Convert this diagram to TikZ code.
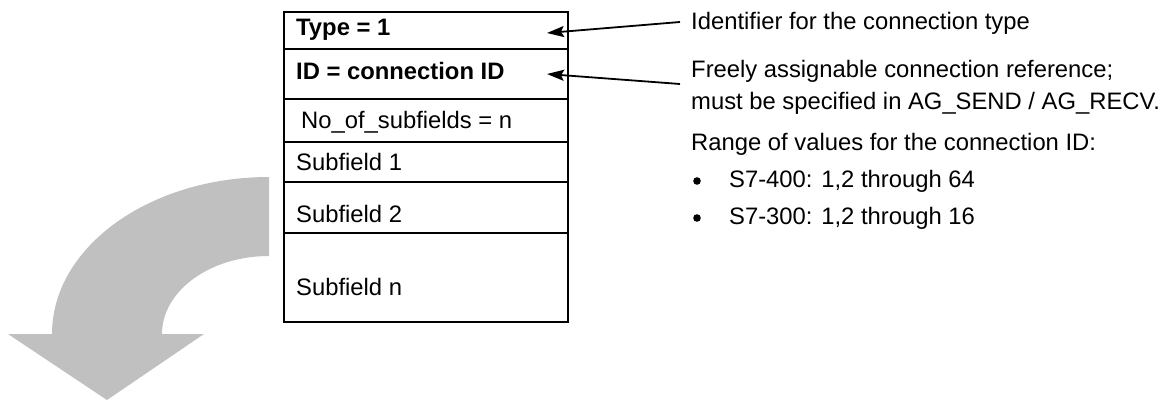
\documentclass[tikz,border=0pt]{standalone}
\usepackage{fontspec}
\setmainfont{Liberation Sans}
\usetikzlibrary{arrows.meta}
\definecolor{arrowgray}{HTML}{C0C0C0}
\begin{document}
\begin{tikzpicture}[x=1pt,y=-1pt,
  txt/.style={anchor=base west,inner sep=0pt,font=\fontsize{23.8}{28}\selectfont},
  btxt/.style={txt,font=\fontsize{23.8}{28}\selectfont\bfseries},
  rowline/.style={line width=1.2pt},
  pointer/.style={line width=1.8pt,-{Stealth[length=17pt,width=11pt,inset=3pt]}},
  bigarrow/.style={fill=arrowgray}]
\useasboundingbox (0,0) rectangle (1170,401);
% big curved arrow
\fill[bigarrow] (269,177) .. controls (149.1,177) and (52,247.3) .. (52,334)
  -- (8,334) -- (107,400) -- (204,334) -- (162,334)
  .. controls (162,290.9) and (209.9,256) .. (269,256) -- cycle;
% box
\node[draw,line width=2pt,anchor=north west,inner sep=0pt,minimum width=284pt,minimum height=310pt] (box) at (283,11) {};
\draw[rowline] (283,49) -- (567,49);
\draw[rowline] (283,99) -- (567,99);
\draw[rowline] (283,142) -- (567,142);
\draw[rowline] (283,182) -- (567,182);
\draw[rowline] (283,233) -- (567,233);
% box texts
\node[btxt] (type) at (296,36) {Type = 1};
\node[btxt] (id) at (296,80) {ID = connection ID};
\node[txt] (nof) at (301,129) {No\_of\_subfields = n};
\node[txt] (sf1) at (296,171) {Subfield 1};
\node[txt] (sf2) at (296,222) {Subfield 2};
\node[txt] (sfn) at (296,295) {Subfield n};
% right texts
\node[txt] (ident) at (691,30) {Identifier for the connection type};
\node[txt] (free1) at (691,78) {Freely assignable connection reference;};
\node[txt] (free2) at (691,110) {must be specified in AG\_SEND / AG\_RECV.};
\node[txt] (range) at (691,151) {Range of values for the connection ID:};
\fill (697,181) circle (3.8pt);
\node[txt] (b1) at (729,187) {S7-400: 1,2 through 64};
\fill (697,218) circle (3.8pt);
\node[txt] (b2) at (729,224) {S7-300: 1,2 through 16};
% pointers
\coordinate (p1s) at (680,22);
\coordinate (p1e) at (547,33);
\coordinate (p2s) at (680,84);
\coordinate (p2e) at (547,74);
\draw[pointer] (p1s) -- (p1e);
\draw[pointer] (p2s) -- (p2e);
\end{tikzpicture}
\end{document}
